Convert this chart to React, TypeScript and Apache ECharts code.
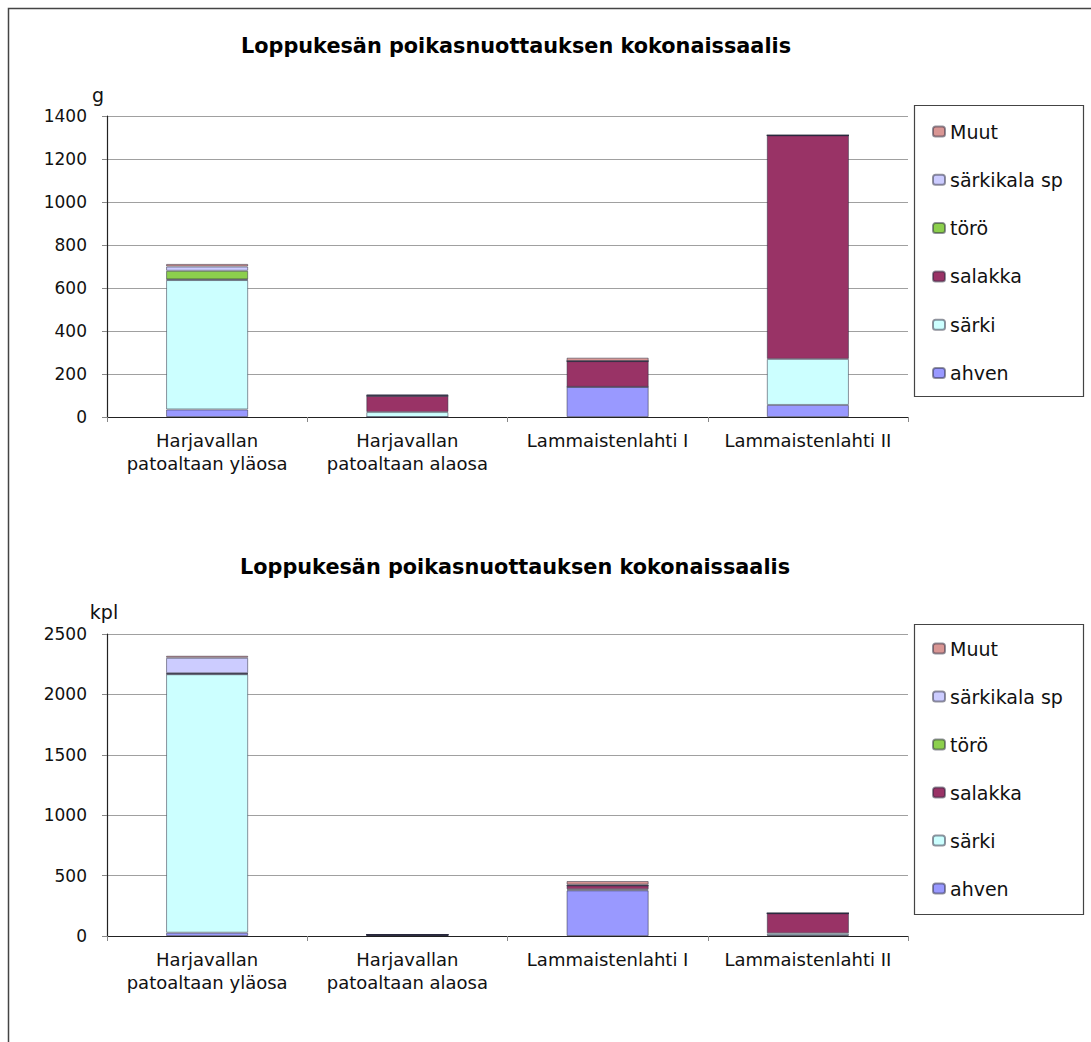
import React, { useEffect, useRef } from "react";
import * as echarts from "echarts";

const categories = [
  "Harjavallan\npatoaltaan yläosa",
  "Harjavallan\npatoaltaan alaosa",
  "Lammaistenlahti I",
  "Lammaistenlahti II",
];

const seriesNames = ["ahven", "särki", "salakka", "törö", "särkikala sp", "Muut"];
const seriesColors = ["#9999ff", "#ccffff", "#993366", "#8ccf4d", "#ccccff", "#d99694"];

// grams (g)
const gAhven = [35, 0, 140, 56];
const gSarki = [602, 23, 0, 214];
const gSalakka = [3, 75, 120, 1040];
const gToro = [40, 0, 0, 0];
const gSarkikala = [20, 3, 0, 0];
const gMuut = [12, 3, 16, 0];

// count (kpl)
const kAhven = [27, 8, 378, 6];
const kSarki = [2140, 2, 8, 16];
const kSalakka = [3, 0, 32, 166];
const kToro = [5, 0, 0, 0];
const kSarkikala = [128, 0, 7, 0];
const kMuut = [17, 0, 30, 0];

const gTicks = { min: 0, max: 1400, interval: 200 };
const kTicks = { min: 0, max: 2500, interval: 500 };

const chartTitle = "Loppukesän poikasnuottauksen kokonaissaalis";
const legendOrder = ["Muut", "särkikala sp", "törö", "salakka", "särki", "ahven"];

const FONT = "DejaVu Sans";

export default function App() {
  const ref = useRef<HTMLDivElement>(null);

  useEffect(() => {
    if (!ref.current) return;
    const chart = echarts.init(ref.current, null, { renderer: "svg" });

    const gData = [gAhven, gSarki, gSalakka, gToro, gSarkikala, gMuut];
    const kData = [kAhven, kSarki, kSalakka, kToro, kSarkikala, kMuut];

    const mkSeries = (data: number[][], idx: number, stack: string) =>
      seriesNames.map((name, i) => ({
        name,
        type: "bar",
        stack,
        xAxisIndex: idx,
        yAxisIndex: idx,
        barWidth: "41%",
        data: data[i],
        itemStyle: {
          color: seriesColors[i],
          borderColor: "rgba(40,40,60,0.5)",
          borderWidth: 1,
        },
        emphasis: { disabled: true },
      }));

    const xAxisBase = (gridIndex: number) => ({
      type: "category",
      gridIndex,
      data: categories,
      axisLine: { lineStyle: { color: "#222", width: 1.2 } },
      axisTick: { show: true, length: 5, lineStyle: { color: "#888" } },
      axisLabel: {
        fontFamily: FONT,
        fontSize: 18,
        color: "#111",
        lineHeight: 23,
        margin: 12,
        interval: 0,
      },
    });

    const yAxisBase = (gridIndex: number, t: { min: number; max: number; interval: number }) => ({
      type: "value",
      gridIndex,
      min: t.min,
      max: t.max,
      interval: t.interval,
      axisLine: { show: true, lineStyle: { color: "#222", width: 1.2 } },
      axisTick: { show: true, length: 5, lineStyle: { color: "#888" } },
      axisLabel: {
        fontFamily: FONT,
        fontSize: 17,
        color: "#111",
        margin: 20,
        formatter: (v: number) => String(v),
      },
      splitLine: { show: true, lineStyle: { color: "#a0a0a0", width: 1 } },
    });

    const legendBase = (top: number, gap: number) => ({
      orient: "vertical",
      left: 932,
      top,
      padding: 0,
      itemWidth: 12,
      itemHeight: 10,
      itemGap: gap,
      data: legendOrder,
      textStyle: { fontFamily: FONT, fontSize: 19, color: "#111", lineHeight: 18 },
      selectedMode: false,
    });

    const option = {
      animation: false,
      backgroundColor: "#ffffff",
      title: [
        {
          text: chartTitle,
          left: 516,
          textAlign: "center",
          top: 35,
          padding: 0,
          textStyle: { fontFamily: FONT, fontSize: 20.8, fontWeight: "bold", color: "#000" },
        },
        {
          text: chartTitle,
          left: 515,
          textAlign: "center",
          top: 556,
          padding: 0,
          textStyle: { fontFamily: FONT, fontSize: 20.8, fontWeight: "bold", color: "#000" },
        },
      ],
      grid: [
        { left: 107, top: 116, width: 801, height: 301 },
        { left: 107, top: 634, width: 801, height: 302 },
      ],
      xAxis: [xAxisBase(0), xAxisBase(1)],
      yAxis: [yAxisBase(0, gTicks), yAxisBase(1, kTicks)],
      legend: [legendBase(122, 29.3), legendBase(639, 29)],
      series: [...mkSeries(gData, 0, "g"), ...mkSeries(kData, 1, "k")],
      graphic: [
        {
          type: "rect",
          silent: true,
          z: -1,
          shape: { x: 8.5, y: 8.5, width: 1300, height: 1300 },
          style: { fill: "none", stroke: "#444", lineWidth: 1.5 },
        },
        {
          type: "rect",
          silent: true,
          shape: { x: 914.5, y: 105.5, width: 169, height: 291 },
          style: { fill: "none", stroke: "#444", lineWidth: 1.2 },
        },
        {
          type: "rect",
          silent: true,
          shape: { x: 914.5, y: 624.5, width: 169, height: 290 },
          style: { fill: "none", stroke: "#444", lineWidth: 1.2 },
        },
        {
          type: "text",
          silent: true,
          style: {
            text: "g",
            x: 98,
            y: 95,
            textAlign: "center",
            textVerticalAlign: "middle",
            fontFamily: FONT,
            fontSize: 19,
            fill: "#111",
          },
        },
        {
          type: "text",
          silent: true,
          style: {
            text: "kpl",
            x: 104,
            y: 612,
            textAlign: "center",
            textVerticalAlign: "middle",
            fontFamily: FONT,
            fontSize: 19,
            fill: "#111",
          },
        },
      ],
    };

    chart.setOption(option as any);
    return () => chart.dispose();
  }, []);

  return (
    <div
      ref={ref}
      style={{ position: "fixed", left: 0, top: 0, width: 1091, height: 1042, background: "#fff" }}
    />
  );
}
